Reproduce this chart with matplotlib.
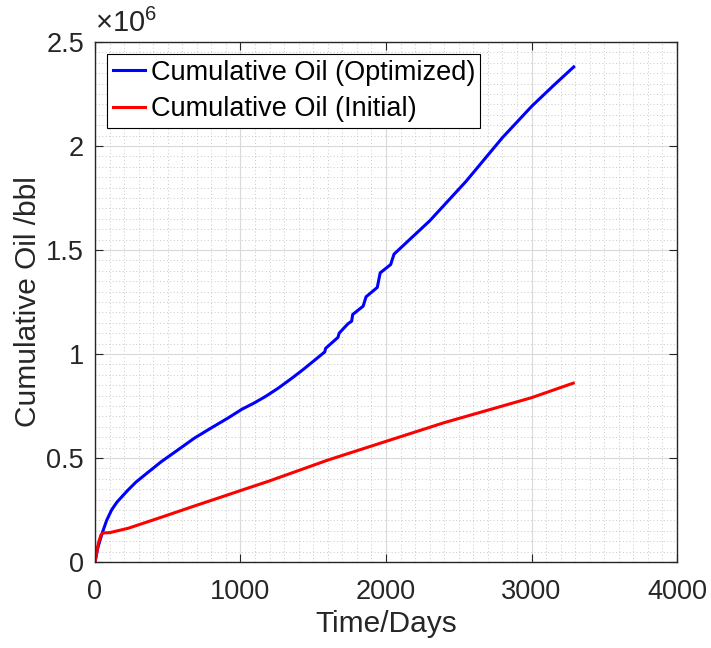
import matplotlib
matplotlib.use("Agg")
import matplotlib.pyplot as plt
from matplotlib.ticker import MultipleLocator

# data (time in days, oil in 1e6 bbl)
t_opt = [0, 20, 50, 80, 114, 150, 190, 227, 280, 341, 455, 568, 682, 795, 909,
         1011, 1090, 1170, 1260, 1352, 1430, 1511, 1579, 1585, 1670, 1678, 1738,
         1764, 1771, 1843, 1863, 1940, 1960, 2032, 2055, 2300, 2550, 2800, 3000,
         3150, 3290]
oil_opt = [0, 0.07, 0.14, 0.2, 0.25, 0.287, 0.318, 0.346, 0.383, 0.418, 0.482,
           0.538, 0.595, 0.643, 0.69, 0.735, 0.763, 0.795, 0.836, 0.883, 0.925,
           0.971, 1.01, 1.027, 1.08, 1.10, 1.145, 1.158, 1.19, 1.23, 1.275, 1.32,
           1.39, 1.43, 1.48, 1.64, 1.83, 2.04, 2.19, 2.29, 2.38]

t_init = [0, 23, 41, 57, 100, 227, 455, 682, 909, 1011, 1200, 1400, 1600, 1800,
          2000, 2200, 2400, 2600, 2800, 3000, 3287]
oil_init = [0, 0.09, 0.13, 0.14, 0.141, 0.162, 0.215, 0.269, 0.322, 0.346, 0.39,
            0.44, 0.49, 0.535, 0.58, 0.625, 0.67, 0.71, 0.75, 0.79, 0.86]

x_ticks = [0, 1000, 2000, 3000, 4000]
y_ticks = [0, 0.5, 1, 1.5, 2, 2.5]
y_tick_labels = ["0", "0.5", "1", "1.5", "2", "2.5"]

plt.rcParams["font.family"] = ["Liberation Sans", "DejaVu Sans"]
plt.rcParams["mathtext.fontset"] = "custom"
plt.rcParams["mathtext.rm"] = "Liberation Sans"
plt.rcParams["mathtext.it"] = "Liberation Sans"

axis_col = "#262626"

fig = plt.figure(figsize=(7.11, 6.48), dpi=100)
ax = fig.add_axes([0.1336, 0.1327, 0.8186, 0.8025])

ax.plot(t_opt, oil_opt, color="#0000ff", lw=2.2, label="Cumulative Oil (Optimized)")
ax.plot(t_init, oil_init, color="#ff0000", lw=2.2, label="Cumulative Oil (Initial)")

ax.set_xlim(0, 4000)
ax.set_ylim(0, 2.5)
ax.set_xticks(x_ticks)
ax.set_yticks(y_ticks, y_tick_labels)
ax.xaxis.set_minor_locator(MultipleLocator(100))
ax.yaxis.set_minor_locator(MultipleLocator(0.05))

ax.grid(which="major", color="#d9d9d9", lw=0.8)
ax.grid(which="minor", color="#c8c8c8", lw=0.7, linestyle=(0, (1, 2.5)))
ax.set_axisbelow(True)

ax.tick_params(which="both", direction="in", top=True, right=True,
               colors=axis_col, labelsize=19.5, width=0.8)
ax.tick_params(which="major", length=6)
ax.tick_params(which="minor", length=0)
ax.tick_params(axis="x", pad=12)
ax.tick_params(axis="y", pad=8)
for s in ax.spines.values():
    s.set_color(axis_col)
    s.set_linewidth(1.0)

ax.set_xlabel("Time/Days", fontsize=21.5, color=axis_col, labelpad=4)
ax.set_ylabel("Cumulative Oil /bbl", fontsize=21.5, color=axis_col, labelpad=3)
ax.text(0, 1.008, r"$\times10^{6}$", transform=ax.transAxes, fontsize=21,
        color=axis_col, va="bottom", ha="left")

leg = ax.legend(loc="upper left", fontsize=19.5, frameon=True, fancybox=False,
                edgecolor="black", framealpha=1, handlelength=1.2,
                borderaxespad=0.45, borderpad=0.2, labelspacing=0.4,
                handletextpad=0.2)
leg.get_frame().set_linewidth(0.8)

fig.savefig("out.png", dpi=100)
